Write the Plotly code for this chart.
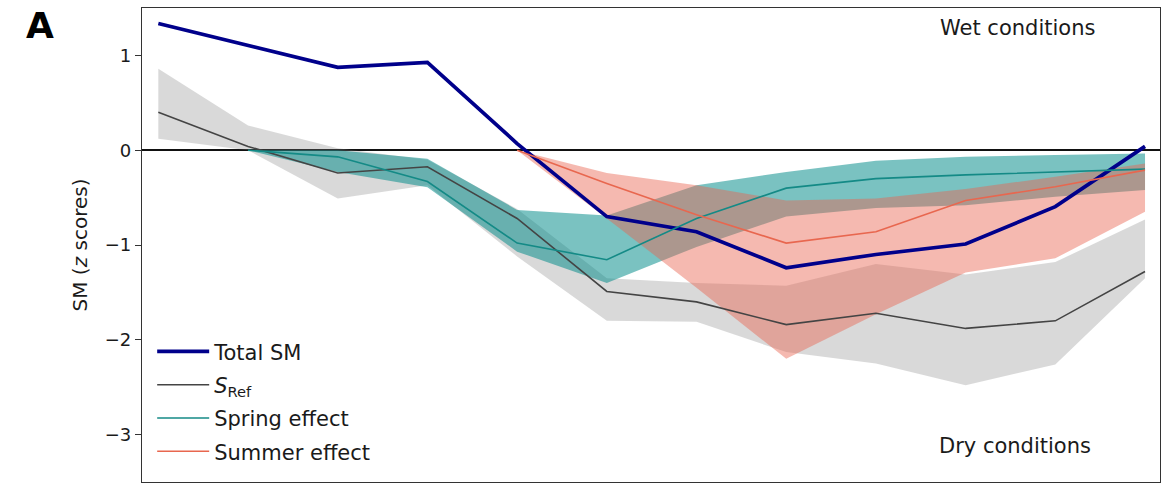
import plotly.graph_objects as go

# Month index along the season
months = list(range(12))

# Total soil moisture anomaly
total_sm = [1.336, 1.10, 0.874, 0.927, 0.07, -0.70, -0.86, -1.24, -1.10, -0.99, -0.595, 0.04]

# Reference simulation (S_Ref) with its spread
s_ref = [0.40, 0.04, -0.24, -0.175, -0.72, -1.49, -1.60, -1.84, -1.72, -1.88, -1.80, -1.28]
s_ref_hi = [0.86, 0.26, 0.02, -0.10, -0.62, -1.35, -1.40, -1.43, -1.20, -1.31, -1.18, -0.73]
s_ref_lo = [0.12, 0.0, -0.51, -0.37, -1.12, -1.80, -1.81, -2.13, -2.25, -2.48, -2.26, -1.35]

# Spring effect (starts at month 1)
spring_months = months[1:]
spring = [0.0, -0.07, -0.33, -0.98, -1.155, -0.72, -0.40, -0.30, -0.26, -0.23, -0.20]
spring_hi = [0.0, 0.0, -0.09, -0.63, -0.69, -0.37, -0.23, -0.11, -0.07, -0.05, -0.035]
spring_lo = [0.0, -0.23, -0.39, -1.07, -1.40, -1.02, -0.70, -0.61, -0.58, -0.49, -0.42]

# Summer effect (starts at month 4)
summer_months = months[4:]
summer = [0.0, -0.35, -0.68, -0.98, -0.86, -0.53, -0.385, -0.21]
summer_hi = [0.0, -0.24, -0.37, -0.53, -0.51, -0.41, -0.28, -0.14]
summer_lo = [0.0, -0.72, -1.45, -2.20, -1.73, -1.29, -1.14, -0.65]

FONT = "DejaVu Sans"
TXT = "#1a1a1a"

fig = go.Figure()


def band(xs, hi, lo, color):
    fig.add_trace(go.Scatter(
        x=list(xs) + list(xs)[::-1],
        y=list(hi) + list(lo)[::-1],
        fill="toself", fillcolor=color, mode="none",
        line=dict(width=0), showlegend=False, hoverinfo="skip",
    ))


band(months, s_ref_hi, s_ref_lo, "rgba(128,128,128,0.30)")
band(spring_months, spring_hi, spring_lo, "rgba(0,139,136,0.52)")
band(summer_months, summer_hi, summer_lo, "rgba(232,100,80,0.45)")

fig.add_trace(go.Scatter(
    x=months, y=total_sm, mode="lines", name="Total SM", legendgroup="a",
    line=dict(color="#00008b", width=3.7), legendrank=1,
))
fig.add_trace(go.Scatter(
    x=months, y=s_ref, mode="lines", name="<i>S</i><sub>Ref</sub>", legendgroup="b",
    line=dict(color="#444444", width=1.6), legendrank=2,
))
fig.add_trace(go.Scatter(
    x=spring_months, y=spring, mode="lines", name="Spring effect", legendgroup="c",
    line=dict(color="#148a86", width=1.6), legendrank=3,
))
fig.add_trace(go.Scatter(
    x=summer_months, y=summer, mode="lines", name="Summer effect", legendgroup="d",
    line=dict(color="#e8674f", width=1.6), legendrank=4,
))

fig.add_annotation(text="Wet conditions", x=0.8605, y=0.958, xref="paper", yref="paper",
                   xanchor="center", yanchor="middle",
                   showarrow=False, font=dict(family=FONT, size=21, color=TXT))
fig.add_annotation(text="Dry conditions", x=0.858, y=0.075, xref="paper", yref="paper",
                   xanchor="center", yanchor="middle",
                   showarrow=False, font=dict(family=FONT, size=21, color=TXT))
fig.add_annotation(text="<b>A</b>", x=-0.1, y=0.964, xref="paper", yref="paper",
                   xanchor="center", yanchor="middle",
                   showarrow=False, font=dict(family=FONT, size=36, color="#000000"))

fig.update_layout(
    width=1163, height=483,
    margin=dict(l=142, r=3, t=8, b=1),
    paper_bgcolor="white", plot_bgcolor="white",
    font=dict(family=FONT, size=18, color=TXT),
    showlegend=True,
    legend=dict(x=0.01, y=0.318, xanchor="left", yanchor="top",
                bgcolor="rgba(255,255,255,0)", font=dict(size=21, family=FONT, color=TXT),
                tracegroupgap=3, itemwidth=52),
    xaxis=dict(range=[-0.182, 11.167], showticklabels=False, ticks="", showgrid=False,
               zeroline=False, showline=True, linecolor="#333333", linewidth=1.3, mirror=True),
    yaxis=dict(range=[-3.5, 1.5], tickvals=[-3, -2, -1, 0, 1],
               ticktext=["\u22123", "\u22122", "\u22121", "0", "1"],
               ticks="outside", ticklen=6, tickcolor="#333333", tickwidth=1.2,
               showgrid=False, zeroline=True, zerolinecolor="#111111", zerolinewidth=1.5,
               showline=True, linecolor="#333333", linewidth=1.3, mirror=True,
               title=dict(text="SM (<i>z</i> scores)", standoff=11, font=dict(size=20, family=FONT)),
               tickfont=dict(size=18, family=FONT, color=TXT)),
)

fig.write_html("out.html")
